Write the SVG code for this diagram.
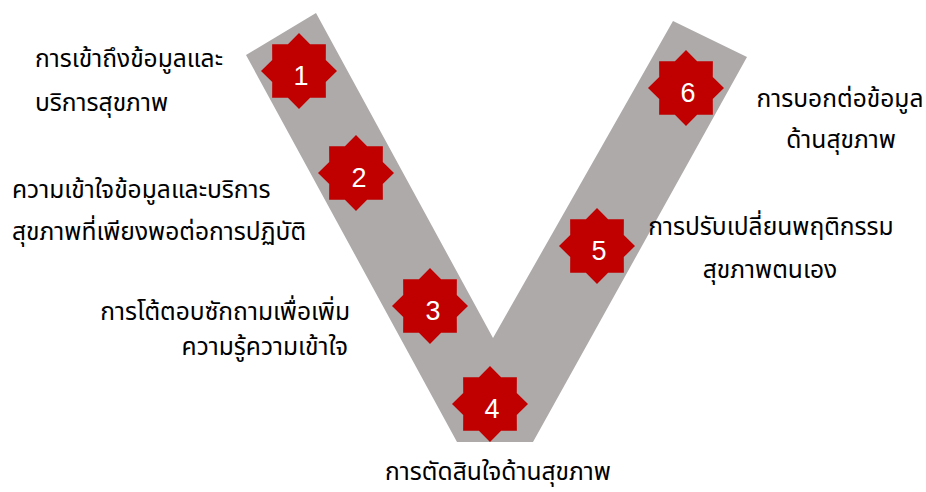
<svg xmlns="http://www.w3.org/2000/svg" xmlns:xlink="http://www.w3.org/1999/xlink" width="926" height="492" viewBox="0 0 926 492">
  <style>
    .band { fill: #AEAAAA; }
    .star { fill: #C00000; }
    .num { fill: #FFFFFF; font-family: "Liberation Sans", "Open Sans", sans-serif; font-size: 27px; text-anchor: middle; }
    .lbl { fill: #000000; font-family: "Noto Sans Thai", "Tahoma", "Noto Sans", sans-serif; font-size: 24.6px; }
  </style>
  <defs>
    <path id="star8" d="M0,-38 L11.1,-26.79 L26.87,-26.87 L26.79,-11.1 L38,0 L26.79,11.1 L26.87,26.87 L11.1,26.79 L0,38 L-11.1,26.79 L-26.87,26.87 L-26.79,11.1 L-38,0 L-26.79,-11.1 L-26.87,-26.87 L-11.1,-26.79 Z"/>
  </defs>
  <rect width="926" height="492" fill="#FFFFFF"/>
  <g id="connectors">
    <polygon class="band" points="246,55 316,13 493,338 673,21 747,57 533,442 457,442"/>
  </g>
  <g id="node1">
    <use xlink:href="#star8" class="star" x="299" y="71"/>
    <text class="num" x="301" y="85">1</text>
    <text class="lbl" x="35" y="67">การเข้าถึงข้อมูลและ</text>
    <text class="lbl" x="35" y="111">บริการสุขภาพ</text>
  </g>
  <g id="node2">
    <use xlink:href="#star8" class="star" x="356" y="173"/>
    <text class="num" x="359" y="187">2</text>
    <text class="lbl" x="12" y="198">ความเข้าใจข้อมูลและบริการ</text>
    <text class="lbl" x="12" y="240">สุขภาพที่เพียงพอต่อการปฏิบัติ</text>
  </g>
  <g id="node3">
    <use xlink:href="#star8" class="star" x="430" y="306"/>
    <text class="num" x="433" y="320">3</text>
    <text class="lbl" x="350" y="320" text-anchor="end">การโต้ตอบซักถามเพื่อเพิ่ม</text>
    <text class="lbl" x="348" y="355" text-anchor="end">ความรู้ความเข้าใจ</text>
  </g>
  <g id="node4">
    <use xlink:href="#star8" class="star" x="490" y="404"/>
    <text class="num" x="492" y="418">4</text>
    <text class="lbl" x="498" y="480" text-anchor="middle">การตัดสินใจด้านสุขภาพ</text>
  </g>
  <g id="node5">
    <use xlink:href="#star8" class="star" x="597" y="246"/>
    <text class="num" x="599" y="260">5</text>
    <text class="lbl" x="771" y="235" text-anchor="middle">การปรับเปลี่ยนพฤติกรรม</text>
    <text class="lbl" x="770" y="278" text-anchor="middle">สุขภาพตนเอง</text>
  </g>
  <g id="node6">
    <use xlink:href="#star8" class="star" x="686" y="88"/>
    <text class="num" x="688" y="102">6</text>
    <text class="lbl" x="840" y="107" text-anchor="middle">การบอกต่อข้อมูล</text>
    <text class="lbl" x="841" y="148" text-anchor="middle">ด้านสุขภาพ</text>
  </g>
</svg>
